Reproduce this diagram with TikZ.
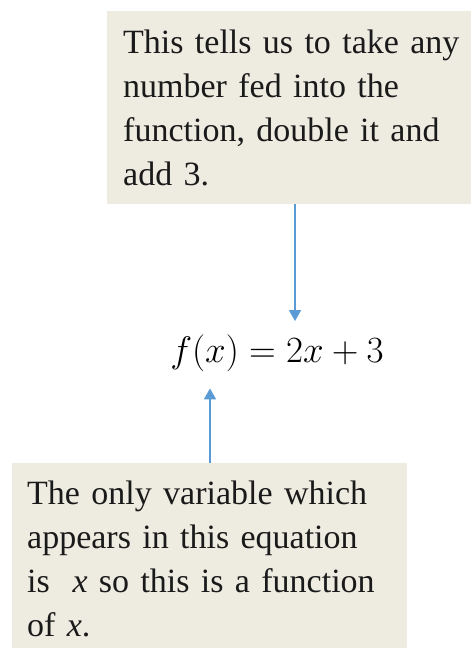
\RequirePackage{fix-cm}
\documentclass[tikz,border=0pt]{standalone}
\usepackage{fontspec}
\setmainfont{Liberation Serif}
\usetikzlibrary{arrows.meta}
\definecolor{boxfill}{HTML}{EEECE1}
\definecolor{arrowblue}{HTML}{5B9BD5}
\definecolor{txt}{HTML}{1A1A1A}
\tikzset{
  notebox/.style={fill=boxfill, draw=none, align=left, inner ysep=0pt,
    text=txt, font=\fontsize{34}{44}\selectfont},
  pointer/.style={draw=arrowblue, line width=1.5pt,
    -{Triangle[width=12pt,length=11pt]}}
}
\begin{document}
\begin{tikzpicture}[x=1pt,y=1pt]
\useasboundingbox (0,0) rectangle (471,648);
% top note
\node[notebox, anchor=north west, inner xsep=16pt, text width=360pt,
      minimum height=193pt] (topbox) at (107,637)
  {This tells us to take any\\number fed into the\\function, double it and\\add 3.};
% bottom note
\node[notebox, anchor=north west, inner xsep=15pt, text width=365pt,
      minimum height=192pt] (botbox) at (12,185)
  {The only variable which\\appears in this equation\\is\ \ \textit{x} so this is a function\\of \textit{x}.};
% formula
\node[inner sep=0pt, anchor=base, font=\fontsize{37}{44}\selectfont] (f) at (277,285)
  {$f(x) = 2x + 3$};
% connectors
\coordinate (tipA) at ([xshift=18pt,yshift=14pt]f.north);
\coordinate (tipB) at ([xshift=-67pt,yshift=-16pt]f.south);
\draw[pointer] (tipA |- topbox.south) -- (tipA);
\draw[pointer] (tipB |- botbox.north) -- (tipB);
\end{tikzpicture}
\end{document}
